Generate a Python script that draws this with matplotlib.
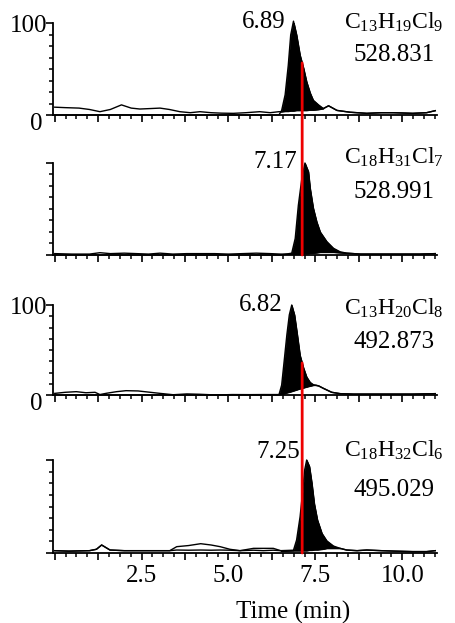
import numpy as np
import matplotlib
matplotlib.use("Agg")
import matplotlib.pyplot as plt
import matplotlib.transforms as mtrans
from matplotlib.ticker import MultipleLocator, FixedLocator, FuncFormatter
from matplotlib.patches import ConnectionPatch

plt.rcParams['font.family'] = ['Liberation Serif', 'DejaVu Serif']
plt.rcParams['mathtext.fontset'] = 'custom'
plt.rcParams['mathtext.rm'] = 'Liberation Serif'
plt.rcParams['mathtext.it'] = 'Liberation Serif:italic'
plt.rcParams['mathtext.bf'] = 'Liberation Serif:bold'

# ---------------- data ----------------
retention_times = [6.89, 7.17, 6.82, 7.25]
formulas = [r"$\mathrm{C_{13}H_{19}Cl_{9}}$", r"$\mathrm{C_{18}H_{31}Cl_{7}}$",
            r"$\mathrm{C_{13}H_{20}Cl_{8}}$", r"$\mathrm{C_{18}H_{32}Cl_{6}}$"]
masses = ["528.831", "528.991", "492.873", "495.029"]
marker_time = 7.12
show_y_labels = [True, False, True, False]
ytick_vals = [0, 100]
ytick_labels = ["0", "100"]
xtick_labels = {2.5: "2.5", 5.0: "5.0", 7.5: "7.5", 10.0: "10.0"}
xlabel = "Time (min)"

t1 = [0.0, 0.3, 0.7, 1.0, 1.3, 1.6, 1.92, 2.2, 2.45, 2.75, 3.03, 3.3, 3.6, 3.9, 4.18,
      4.5, 4.8, 5.14, 5.5, 5.9, 6.2, 6.45, 6.53, 6.63, 6.72, 6.79, 6.87, 6.96, 7.06,
      7.16, 7.25, 7.35, 7.44, 7.59, 7.73, 7.88, 8.12, 8.5, 8.98, 9.4, 9.75, 10.3, 10.7, 10.95]
main1 = [0, 0, 0, 0, 0, 0, 0, 0, 0, 0, 0, 0, 0, 0, 0,
         0, 0, 0, 0, 0, 0, 0, 5, 22, 54, 87, 102, 87, 65,
         51, 36, 24, 16, 11, 7, 10, 5, 3, 1.8, 2.5, 2.5, 1.8, 2.5, 4.7]
other1 = [8.5, 8, 7.5, 6, 3.6, 6, 11, 7.5, 6.5, 7, 7.5, 6, 3.6, 2.5, 3.6,
          2.5, 2, 1.8, 2.5, 3.6, 2.5, 3.6, 3.6, 4, 4, 4.5, 4.5, 5, 5,
          5, 5, 5.5, 5.5, 6, 7, 10, 5, 3, 1.8, 2.5, 2.5, 1.8, 2.5, 4.7]

t2 = [0.0, 0.5, 1.0, 1.3, 1.6, 2.0, 2.35, 2.7, 3.03, 3.4, 3.8, 4.2, 4.6, 5.0, 5.4, 5.8,
      6.2, 6.5, 6.82, 6.92, 7.01, 7.11, 7.20, 7.30, 7.35, 7.44, 7.54, 7.64, 7.83, 8.02,
      8.21, 8.4, 8.8, 9.2, 9.6, 10.0, 10.5, 10.95]
main2 = [0, 0, 0, 0, 0, 0, 0, 0, 0, 0, 0, 0, 0, 0, 0, 0,
         0, 0, 2, 18, 54, 83, 100, 90.6, 72.5, 51, 36, 25, 14.5, 7.3,
         3.5, 2, 1, 1, 1, 1, 1, 1.5]
other2 = [1.5, 1, 1, 2.5, 1.5, 2, 1.5, 1, 2, 1, 1.5, 1.5, 1.5, 1, 1.5, 2,
          1.5, 1, 1, 1, 1, 1, 1.5, 1.5, 2, 2, 2.5, 3, 3, 3,
          2.5, 2, 1, 1, 1, 1, 1, 1.5]

t3 = [0.0, 0.3, 0.62, 0.9, 1.16, 1.3, 1.5, 1.78, 2.05, 2.4, 2.75, 3.03, 3.41, 3.8, 4.18,
      4.66, 5.1, 5.6, 6.0, 6.45, 6.53, 6.60, 6.68, 6.75, 6.82, 6.90, 6.98, 7.06, 7.16,
      7.25, 7.35, 7.44, 7.52, 7.6, 7.73, 7.97, 8.21, 8.6, 9.0, 9.4, 9.8, 10.3, 10.95]
main3 = [0, 0, 0, 0, 0, 0, 0, 0, 0, 0, 0, 0, 0, 0, 0,
         0, 0, 0, 0, 0, 11, 37, 67, 89, 100, 89, 67, 44, 30,
         20, 14, 11.5, 10.5, 10, 7.4, 3, 1.5, 1, 1, 1, 1, 1, 1.5]
other3 = [1.8, 3, 3.7, 2.5, 3, 0.5, 2, 3.7, 4.8, 4.5, 3, 1.8, 0.3, 1.2, 0.8,
          0, 0.5, 0.4, 0.5, 0.5, 1, 1.5, 2.5, 3.2, 4, 5, 6, 7, 8,
          9, 10, 10.8, 11, 10, 7.4, 3, 1.5, 1, 1, 1, 1, 1, 1.5]

t4 = [0.0, 0.4, 1.0, 1.2, 1.35, 1.59, 2.0, 2.5, 3.0, 3.31, 3.51, 3.85, 4.2, 4.5, 4.76,
      5.04, 5.33, 5.72, 6.0, 6.29, 6.5, 6.87, 6.96, 7.06, 7.14, 7.19, 7.25, 7.33, 7.40,
      7.47, 7.56, 7.69, 7.83, 8.02, 8.21, 8.40, 8.7, 8.98, 9.4, 9.8, 10.3, 10.7, 10.95]
main4 = [2.5, 2, 2.5, 4, 8.6, 3.2, 2.5, 2.5, 2.5, 2.5, 3.2, 3, 3.2, 3, 3.2,
         3, 2.5, 3, 2.5, 3, 2.5, 3, 14, 39, 68, 89, 100, 93, 75,
         53, 35.5, 21, 13, 7.5, 5, 3.2, 2.5, 3.2, 2.5, 2, 1.5, 1.5, 2.5]
other4 = [2.5, 2, 2.5, 4, 8.6, 3.2, 2.5, 2.5, 2.5, 2.5, 6.8, 8, 10, 8.6, 6.8,
          4, 2.5, 5, 5, 5, 2.5, 2.5, 2.5, 2.5, 2.5, 2.5, 2.5, 3, 3,
          3.5, 3.5, 4, 5, 5, 5, 3.2, 2.5, 3.2, 2.5, 2, 1.5, 1.5, 2.5]

times = [t1, t2, t3, t4]
mains = [main1, main2, main3, main4]
others = [other1, other2, other3, other4]

# ---------------- layout (pixel based) ----------------
W, H = 455, 623
fig = plt.figure(figsize=(W / 100, H / 100), dpi=100)
left_px, right_px = 53, 437
panel_px = [(23, 115), (163, 255), (305, 395), (460, 553)]   # (top=100, baseline=0)
label_offsets = [(-6.5, 1), (-5, 1), (-6.5, 0), (-5, 6)]   # points
formula_y = [1.01, 1.065, 0.967, 1.108]
mass_y = [0.652, 0.685, 0.589, 0.677]
FS = 18
FS_F = 17

axes = []
for i in range(4):
    top, base = panel_px[i]
    ax = fig.add_axes([left_px / W, (H - base) / H, (right_px - left_px) / W, (base - top) / H])
    axes.append(ax)
    t = np.array(times[i]); m = np.array(mains[i], float); o = np.array(others[i], float)
    ax.fill_between(t, o, m, where=m > o, interpolate=True, color='black', lw=0.6, zorder=2)
    ax.plot(t, m, color='black', lw=1.0, zorder=3, clip_on=False)
    ax.plot(t, o, color='black', lw=1.0, zorder=3, clip_on=False)

    ax.set_xlim(-0.05, 11.0)
    ax.set_ylim(0, 100)
    for s in ['top', 'right']:
        ax.spines[s].set_visible(False)
    for s in ['left', 'bottom']:
        ax.spines[s].set_linewidth(1.3)

    ax.xaxis.set_major_locator(MultipleLocator(1.25))
    ax.xaxis.set_minor_locator(MultipleLocator(0.3125))
    ax.xaxis.set_major_formatter(FuncFormatter(lambda v, p: xtick_labels.get(round(v, 3), "")))
    ax.tick_params(axis='x', which='major', direction='out', length=5, width=1.2,
                   labelsize=FS, pad=4, labelbottom=(i == 3))
    ax.tick_params(axis='x', which='minor', direction='out', length=3, width=1.1)

    ax.yaxis.set_major_locator(FixedLocator(ytick_vals))
    ax.yaxis.set_minor_locator(MultipleLocator(12.5))
    ax.set_yticklabels(ytick_labels if show_y_labels[i] else ["", ""])
    ax.tick_params(axis='y', which='major', direction='out', length=5, width=1.2,
                   labelsize=FS, pad=-1)
    ax.tick_params(axis='y', which='minor', direction='out', length=3, width=1.1)
    if show_y_labels[i]:
        lab0 = ax.yaxis.get_major_ticks()[0].label1
        lab0.set_transform(lab0.get_transform() +
                           mtrans.ScaledTranslation(-5 / 100, -7 / 100, fig.dpi_scale_trans))

    # annotations
    dx, dy = label_offsets[i]
    ax.annotate(f"{retention_times[i]:.2f}", xy=(retention_times[i], 100),
                xytext=(dx, dy), textcoords='offset points', ha='right', va='center',
                fontsize=FS, annotation_clip=False)
    cx = (394 - left_px) / (right_px - left_px)
    ax.text(cx, formula_y[i], formulas[i], transform=ax.transAxes, ha='center',
            va='center', fontsize=FS_F)
    ax.text(cx, mass_y[i], masses[i], transform=ax.transAxes, ha='center',
            va='center', fontsize=FS)

ax4 = axes[3]
ax4.set_xlabel(xlabel, fontsize=FS)
ax4.xaxis.label.set_va('center')
ax4.xaxis.set_label_coords((293 - left_px) / (right_px - left_px), -(612 - 553) / (553 - 460))

# red marker line (two segments)
red = '#ee0000'
for a_top, t_top, m_top, a_bot in [(axes[0], t1, main1, axes[1]), (axes[2], t3, main3, axes[3])]:
    ytop = float(np.interp(marker_time, t_top, m_top))
    cp = ConnectionPatch(xyA=(marker_time, ytop), coordsA='data', axesA=a_top,
                         xyB=(marker_time, 0), coordsB='data', axesB=a_bot,
                         color=red, lw=2.0, zorder=10)
    fig.add_artist(cp)

fig.savefig("out.png", dpi=100)
